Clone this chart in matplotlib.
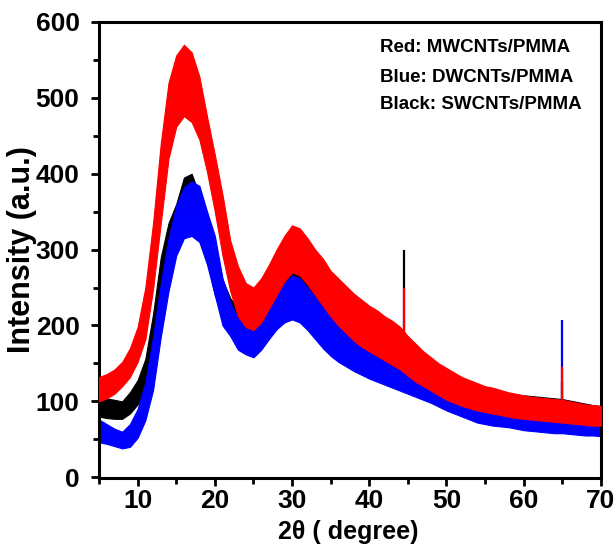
import matplotlib
matplotlib.use("Agg")
import matplotlib.pyplot as plt
from matplotlib.ticker import MultipleLocator

plt.rcParams["font.family"] = ["Liberation Sans", "DejaVu Sans"]
plt.rcParams["font.weight"] = "bold"

# 2theta grid (degree) on which the noise band edges were read
two_theta = list(range(5, 71))

# MWCNTs/PMMA (red), lower / upper edge of the noisy trace
red_low = [100, 104, 110, 120, 132, 152, 182, 248, 335, 420, 462, 476, 468, 445, 402, 350,
           292, 245, 212, 198, 194, 204, 222, 240, 258, 270, 266, 254, 240, 226, 212, 200,
           190, 180, 172, 166, 160, 154, 148, 142, 134, 126, 120, 114, 108, 102, 98, 94,
           91, 88, 86, 84, 82, 80, 78, 77, 76, 75, 74, 73, 72, 71, 70, 69, 68, 68]
red_high = [132, 136, 142, 152, 170, 198, 250, 335, 440, 520, 556, 570, 560, 528, 475, 425,
            372, 312, 278, 256, 250, 262, 280, 300, 318, 332, 328, 315, 300, 288, 272, 262,
            252, 242, 234, 226, 220, 212, 206, 198, 186, 176, 166, 158, 150, 144, 138, 132,
            128, 124, 120, 118, 115, 112, 110, 108, 106, 105, 104, 103, 102, 100, 98, 96, 95, 94]

# SWCNTs/PMMA (black)
black_low = [80, 78, 77, 77, 84, 96, 112, 150, 225, 285, 315, 328, 320, 312, 285, 240,
             212, 192, 180, 174, 174, 182, 195, 208, 218, 224, 220, 208, 194, 182, 172, 164,
             158, 152, 146, 140, 135, 130, 125, 120, 115, 110, 105, 100, 97, 94, 91, 88,
             86, 84, 82, 80, 78, 76, 75, 74, 73, 72, 71, 70, 69, 68, 67, 66, 65, 64]
black_high = [107, 104, 102, 100, 112, 128, 156, 215, 290, 335, 360, 395, 400, 372, 345, 300,
              260, 236, 222, 214, 212, 222, 240, 255, 272, 285, 280, 265, 250, 238, 228, 218,
              210, 204, 198, 192, 186, 180, 175, 170, 162, 156, 150, 145, 140, 135, 131, 127,
              124, 121, 118, 116, 113, 111, 109, 108, 107, 106, 105, 104, 103, 101, 99, 97, 95, 94]

# DWCNTs/PMMA (blue)
blue_low = [46, 44, 41, 38, 40, 52, 75, 115, 185, 245, 292, 315, 318, 310, 280, 240,
            200, 186, 168, 162, 158, 168, 182, 195, 204, 208, 204, 194, 182, 170, 160, 152,
            146, 140, 135, 130, 126, 122, 118, 114, 110, 106, 102, 98, 93, 88, 84, 80,
            76, 72, 70, 68, 67, 66, 64, 62, 61, 60, 59, 58, 58, 57, 56, 55, 55, 54]
blue_high = [76, 70, 64, 60, 70, 90, 125, 185, 255, 315, 358, 382, 390, 384, 350, 318,
             262, 230, 210, 200, 198, 210, 226, 242, 256, 266, 262, 250, 238, 224, 212, 204,
             196, 188, 180, 174, 168, 162, 157, 152, 147, 142, 137, 132, 126, 120, 115, 110,
             106, 102, 98, 96, 95, 94, 92, 91, 90, 89, 88, 88, 87, 87, 86, 86, 85, 85]

# sharp reflections: position, base, top
spike_pos = [44.5, 65.0]
black_spike_base = [150, 95]
black_spike_top = [300, 125]
blue_spike_base = [130, 75]
blue_spike_top = [180, 207]
red_spike_base = [170, 90]
red_spike_top = [250, 145]

legend_lines = ["Red: MWCNTs/PMMA", "Blue: DWCNTs/PMMA", "Black: SWCNTs/PMMA"]

fig = plt.figure(figsize=(6.15, 5.51), dpi=100)
ax = fig.add_axes([0.161, 0.1325, 0.816, 0.8276])

series = [
    (black_low, black_high, black_spike_base, black_spike_top, "black"),
    (blue_low, blue_high, blue_spike_base, blue_spike_top, "blue"),
    (red_low, red_high, red_spike_base, red_spike_top, "red"),
]
for z, (lo, hi, sb, st, col) in enumerate(series):
    ax.fill_between(two_theta, lo, hi, color=col, lw=0.8, zorder=z + 1)
    ax.vlines(spike_pos, sb, st, color=col, lw=1.6, zorder=z + 1)

ax.set_xlim(5, 70)
ax.set_ylim(-1, 600)
ax.xaxis.set_major_locator(MultipleLocator(10))
ax.xaxis.set_minor_locator(MultipleLocator(5))
ax.yaxis.set_major_locator(MultipleLocator(100))
ax.yaxis.set_minor_locator(MultipleLocator(50))
ax.tick_params(which="major", direction="out", length=6, width=2, labelsize=19)
ax.tick_params(axis="x", which="major", pad=2)
ax.tick_params(axis="y", which="major", pad=8)
ax.tick_params(which="minor", direction="out", length=4, width=2)
for s in ax.spines.values():
    s.set_linewidth(2.2)

ax.set_xlabel("2θ ( degree)", fontsize=18, fontweight="bold")
ax.set_ylabel("Intensity (a.u.)", fontsize=22, fontweight="bold")
ax.xaxis.set_label_coords(0.497, -0.092)
ax.yaxis.set_label_coords(-0.1235, 0.5)

for i, t in enumerate(legend_lines):
    ax.text(0.56, [0.943, 0.879, 0.818][i], t, transform=ax.transAxes, fontsize=13.5,
            fontweight="bold", va="center", ha="left")

fig.savefig("out.png", dpi=100)
